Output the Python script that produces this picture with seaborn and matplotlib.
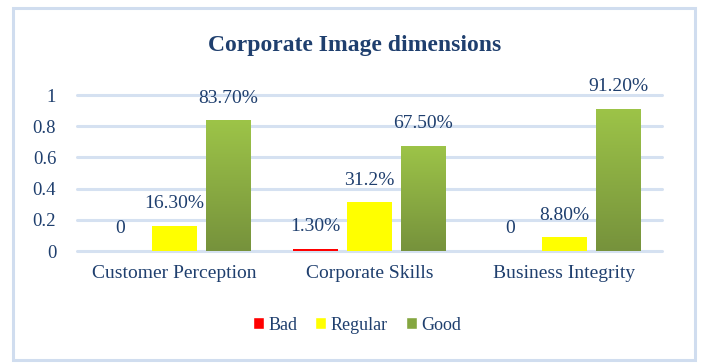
import numpy as np
import pandas as pd
import matplotlib.pyplot as plt
import seaborn as sns
from matplotlib.patches import Rectangle, Patch
from matplotlib.colors import LinearSegmentedColormap

categories = ['Customer Perception', 'Corporate Skills', 'Business Integrity']
levels = ['Bad', 'Regular', 'Good']
bad = [0, 0.013, 0]
regular = [0.163, 0.312, 0.088]
good = [0.837, 0.675, 0.912]
labels = {
    'Bad': ['0', '1.30%', '0'],
    'Regular': ['16.30%', '31.2%', '8.80%'],
    'Good': ['83.70%', '67.50%', '91.20%'],
}

df = pd.DataFrame({
    'category': categories * 3,
    'level': ['Bad'] * 3 + ['Regular'] * 3 + ['Good'] * 3,
    'value': bad + regular + good,
})

txt = '#1F3F6E'
grid_c = '#D5E1F1'
colors = {'Bad': '#FF0000', 'Regular': '#FFFF00', 'Good': '#8DB145'}

sns.set_theme(style='white')
plt.rcParams['font.family'] = ['Liberation Serif', 'DejaVu Serif']

fig = plt.figure(figsize=(7.03, 3.64), dpi=100)
fig.patches.append(Rectangle((13 / 703, 4 / 364), 682 / 703, 352 / 364,
                             transform=fig.transFigure, fill=False,
                             edgecolor='#D0DDEF', linewidth=2.2))
ax = fig.add_axes([77 / 703, 1 - 251 / 364, 585 / 703, 156 / 364])

sns.barplot(data=df, x='category', y='value', hue='level', hue_order=levels,
            palette=colors, width=0.83, gap=0.18, ax=ax, legend=False,
            saturation=1, linewidth=0)

ax.set_yticks([0, 0.2, 0.4, 0.6, 0.8, 1])
ax.set_yticklabels(['0', '0.2', '0.4', '0.6', '0.8', '1'])
for y in [0, 0.2, 0.4, 0.6, 0.8, 1]:
    ax.axhline(y, color=grid_c, linewidth=2.2, zorder=0, clip_on=False)
for s in ax.spines.values():
    s.set_visible(False)
ax.tick_params(axis='y', colors=txt, labelsize=13.5, length=0, pad=15)
ax.tick_params(axis='x', colors=txt, labelsize=14, length=0, pad=10)
ax.set_xlabel('')
ax.set_ylabel('')

# gradient for the green bars, plus value labels
grad = np.linspace(0, 1, 256).reshape(-1, 1)
gcmap = LinearSegmentedColormap.from_list('g', ['#76923C', '#9DC448'])
for lvl, cont in zip(levels, ax.containers):
    for i, bar in enumerate(cont):
        x0, w, h = bar.get_x(), bar.get_width(), bar.get_height()
        if lvl == 'Good':
            im = ax.imshow(grad, cmap=gcmap, origin='lower', aspect='auto',
                           extent=[x0, x0 + w, 0, h], zorder=3)
            im.set_clip_path(bar)
        ax.annotate(labels[lvl][i], (x0 + w / 2, h), xytext=(0, 16),
                    textcoords='offset points', ha='center', va='center',
                    fontsize=14, color=txt, annotation_clip=False)
ax.set_xlim(-0.5, 2.5)
ax.set_ylim(0, 1)

fig.text(0.505, 0.876, 'Corporate Image dimensions', ha='center', va='center',
         fontsize=17, fontweight='bold', color=txt)

handles = [Patch(facecolor=colors[l] if l != 'Good' else '#84A640', label=l) for l in levels]
fig.legend(handles=handles, loc='center', bbox_to_anchor=(0.508, 0.107), ncol=3,
           frameon=False, fontsize=13, labelcolor=txt, handlelength=0.6,
           handleheight=0.6, handletextpad=0.25, columnspacing=1.0)

fig.savefig('out.png', dpi=100)
